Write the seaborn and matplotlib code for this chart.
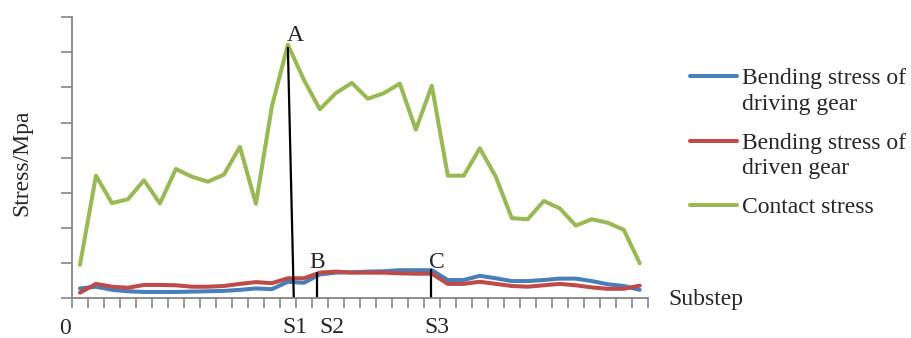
import numpy as np
import pandas as pd
import matplotlib.pyplot as plt
import seaborn as sns

# values (arbitrary stress units, 8 gridsteps)
substep = list(range(36))
driving = [0.28, 0.33, 0.24, 0.20, 0.18, 0.18, 0.18, 0.19, 0.20, 0.21,
           0.24, 0.28, 0.26, 0.47, 0.44, 0.68, 0.73, 0.74, 0.76, 0.77,
           0.80, 0.80, 0.80, 0.52, 0.52, 0.64, 0.57, 0.49, 0.49, 0.52,
           0.56, 0.56, 0.49, 0.40, 0.35, 0.24]
driven = [0.16, 0.41, 0.33, 0.30, 0.38, 0.38, 0.37, 0.33, 0.33, 0.35,
          0.41, 0.46, 0.43, 0.57, 0.57, 0.73, 0.76, 0.73, 0.73, 0.73,
          0.71, 0.70, 0.70, 0.41, 0.41, 0.47, 0.41, 0.35, 0.33, 0.37,
          0.41, 0.37, 0.31, 0.27, 0.27, 0.36]
contact = [0.95, 3.49, 2.71, 2.82, 3.36, 2.70, 3.68, 3.46, 3.32, 3.52,
           4.31, 2.69, 5.46, 7.22, 6.22, 5.38, 5.84, 6.13, 5.68, 5.84,
           6.11, 4.80, 6.05, 3.49, 3.49, 4.27, 3.46, 2.28, 2.25, 2.77,
           2.56, 2.07, 2.25, 2.15, 1.95, 1.00]

series_names = ["Bending stress of\ndriving gear",
                "Bending stress of\ndriven gear",
                "Contact stress"]
colors = ["#4A7EBB", "#BE4B48", "#98B954"]

# annotation markers A, B, C and the substep labels under the axis
mark_labels = ["A", "B", "C"]
mark_x_top = [13.0, 14.81, 21.94]
mark_x_bottom = [13.37, 14.81, 21.94]
mark_top = [7.13, 0.72, 0.81]
mark_label_x = [13.44, 14.81, 22.31]
mark_label_y = [7.47, 1.03, 1.03]
step_labels = ["S1", "S2", "S3"]
step_x = [13.45, 15.75, 22.3]

df = pd.DataFrame({
    "substep": substep * 3,
    "stress": driving + driven + contact,
    "series": np.repeat(series_names, len(substep)),
})

FS = 17

sns.set_style("white")
plt.rcParams["font.family"] = ["Liberation Serif", "DejaVu Serif"]
plt.rcParams["font.size"] = FS

fig = plt.figure(figsize=(9.11, 3.38), dpi=100)
ax = fig.add_axes([0.079, 0.1175, 0.632, 0.8315])

sns.lineplot(data=df, x="substep", y="stress", hue="series",
             hue_order=series_names, palette=dict(zip(series_names, colors)),
             linewidth=2.9, ax=ax, solid_joinstyle="round",
             solid_capstyle="round")

for xt, xb, top in zip(mark_x_top, mark_x_bottom, mark_top):
    ax.plot([xt, xb], [top, 0], color="black", lw=1.6)
for lab, x, y in zip(mark_labels, mark_label_x, mark_label_y):
    ax.text(x, y, lab, ha="center", va="center", fontsize=FS)
for lab, x in zip(step_labels, step_x):
    ax.text(x, -0.105, lab, transform=ax.get_xaxis_transform(),
            ha="center", va="center", fontsize=FS)

ax.set_xlim(-0.5, 35.5)
ax.set_ylim(0, 8)
ax.set_xticks(np.arange(-0.5, 36, 1))
ax.set_yticks(np.arange(0, 9, 1))
ax.set_xticklabels([])
ax.set_yticklabels([])
ax.tick_params(axis="x", direction="out", length=7, width=1.2,
               color="#868686", bottom=True)
ax.tick_params(axis="y", direction="out", length=8, width=1.2,
               color="#868686", left=True)
ax.set_xlabel("")
ax.set_ylabel("")
for side in ["top", "right"]:
    ax.spines[side].set_visible(False)
for side in ["left", "bottom"]:
    ax.spines[side].set_color("#868686")
    ax.spines[side].set_linewidth(1.3)

fig.text(65 / 911, 1 - 328 / 338, "0", ha="center", va="center")
fig.text(668 / 911, 1 - 300 / 338, "Substep", ha="left", va="center")
fig.text(22 / 911, 1 - 163 / 338, "Stress/Mpa", rotation=90,
         ha="center", va="center")

sns.move_legend(ax, "upper left", bbox_to_anchor=(690 / 911, 1 - 68 / 338),
                bbox_transform=fig.transFigure, frameon=False, title=None,
                handlelength=2.0, handletextpad=0.22, labelspacing=0.75,
                fontsize=FS, borderpad=0, borderaxespad=0)
leg = ax.get_legend()
for h in leg.get_lines():
    h.set_linewidth(2.9)
for t in leg.get_texts():
    t.set_linespacing(1.3)
# put the legend line next to the first text line, like the reference
for col in leg._legend_handle_box.get_children():
    for row in col.get_children():
        row.align = "top"

fig.savefig("out.png", dpi=100)
